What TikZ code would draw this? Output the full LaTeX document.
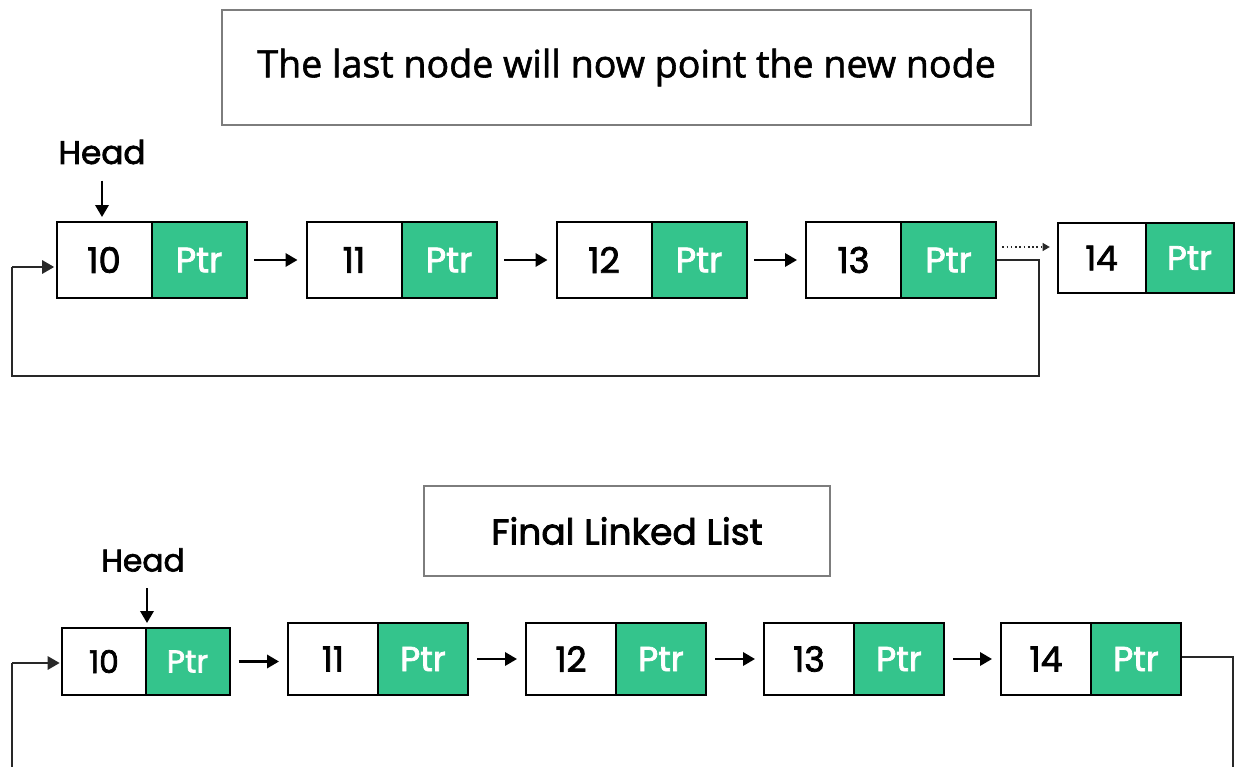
\documentclass[tikz,border=0pt]{standalone}
\usepackage{fontspec}
\setmainfont{Poppins}[FakeBold=2.2]
\newfontfamily\captionfont{Open Sans}[FakeBold=1.6]
\usetikzlibrary{arrows.meta}
\definecolor{ptrgreen}{RGB}{52,196,140}
\definecolor{framegray}{RGB}{125,125,125}
\definecolor{loopgray}{RGB}{40,40,40}
\begin{document}
\begin{tikzpicture}[x=0.75pt,y=-0.75pt,
  cell/.style={draw=black,line width=1.5pt,inner sep=0pt,anchor=center},
  datacell/.style={cell,fill=white,text=black},
  ptrcell/.style={cell,fill=ptrgreen,text=white},
  topsz/.style={minimum width=71.25pt,minimum height=57pt,font=\fontsize{26.5}{30}\selectfont},
  newsz/.style={minimum width=66pt,minimum height=52.5pt,font=\fontsize{25.5}{30}\selectfont},
  firstsz/.style={minimum width=63pt,minimum height=50.25pt,font=\fontsize{23.5}{27}\selectfont},
  botsz/.style={minimum width=67.5pt,minimum height=54pt,font=\fontsize{26}{29}\selectfont},
  caption/.style={draw=framegray,line width=2pt,inner sep=0pt,fill=white},
  headlabel/.style={font=\fontsize{24.5}{28}\selectfont,inner sep=0pt},
  link/.style={line width=1.8pt,-{Triangle[length=9pt,width=10pt]}},
  loopline/.style={draw=loopgray,line width=1.5pt},
  looparrow/.style={loopline,-{Triangle[length=9pt,width=10pt]}},
  newlink/.style={line width=1.2pt,dotted,draw=loopgray,-{Triangle[length=5.5pt,width=6pt]}}
]
\useasboundingbox (0,0) rectangle (1239,767);

% ---------- step: last node points to the new node ----------
\node[caption,minimum width=606.75pt,minimum height=86.25pt] (cap1) at (626.5,67.5)
  {\captionfont\fontsize{28.2}{31}\selectfont The last node will now point the new node};

\node[headlabel] (head1) at (102,152) {Head};

\node[datacell,topsz] (a1) at (104,260) {10};
\node[ptrcell,topsz] (a1p) at (199,260) {Ptr};
\node[datacell,topsz] (a2) at (354,260) {11};
\node[ptrcell,topsz] (a2p) at (449,260) {Ptr};
\node[datacell,topsz] (a3) at (604,260) {12};
\node[ptrcell,topsz] (a3p) at (699,260) {Ptr};
\node[datacell,topsz] (a4) at (853.5,260) {13};
\node[ptrcell,topsz] (a4p) at (948.5,260) {Ptr};
\node[datacell,newsz] (a5) at (1101.5,258) {14};
\node[ptrcell,newsz] (a5p) at (1189.5,258) {Ptr};

\draw[link,shorten <=12pt,shorten >=3pt] (head1) -- (head1 |- a1.north);
\draw[link,shorten <=5pt,shorten >=6pt] (a1p) -- (a2);
\draw[link,shorten <=5pt,shorten >=6pt] (a2p) -- (a3);
\draw[link,shorten <=5pt,shorten >=6pt] (a3p) -- (a4);
\draw[newlink,shorten <=4pt,shorten >=5pt]
  ([yshift=9.75pt]a4p.east) -- ([yshift=9.75pt]a4p.east -| a5.west);

\coordinate (ta) at (1039,260);
\coordinate (tb) at (1039,376);
\coordinate (tc) at (12,376);
\coordinate (td) at (12,267);
\draw[loopline] (a4p.east) -- (ta) -- (tb) -- (tc) -- (td);
\draw[looparrow,shorten >=1pt] (td) -- (td -| a1.west);

% ---------- resulting circular list ----------
\node[caption,minimum width=304.5pt,minimum height=67.5pt] (cap2) at (627,531)
  {\fontsize{27}{30}\selectfont Final Linked List};

\node[headlabel,font=\fontsize{23.5}{27}\selectfont] (head2) at (143,560) {Head};

\node[datacell,firstsz] (b1) at (104,661.5) {10};
\node[ptrcell,firstsz] (b1p) at (187.5,661.5) {Ptr};
\node[datacell,botsz] (b2) at (333,659) {11};
\node[ptrcell,botsz] (b2p) at (423,659) {Ptr};
\node[datacell,botsz] (b3) at (571,659) {12};
\node[ptrcell,botsz] (b3p) at (661,659) {Ptr};
\node[datacell,botsz] (b4) at (809,659) {13};
\node[ptrcell,botsz] (b4p) at (899,659) {Ptr};
\node[datacell,botsz] (b5) at (1046,659) {14};
\node[ptrcell,botsz] (b5p) at (1136,659) {Ptr};

\draw[link,shorten <=12pt,shorten >=3pt] (b1.north east |- head2.south) -- (b1.north east);
\draw[link,shorten <=6pt,shorten >=6pt] (b1p) -- (b1p -| b2.west);
\draw[link,shorten <=6pt,shorten >=6pt] (b2p) -- (b3);
\draw[link,shorten <=6pt,shorten >=6pt] (b3p) -- (b4);
\draw[link,shorten <=6pt,shorten >=6pt] (b4p) -- (b5);

\coordinate (ba) at (12,767);
\coordinate (bb) at (12,663);
\draw[loopline] (ba) -- (bb);
\draw[looparrow,shorten >=1pt] (bb) -- (bb -| b1.west);

\coordinate (bc) at (1233,657);
\coordinate (bd) at (1233,767);
\draw[loopline] (b5p.east |- bc) -- (bc) -- (bd);
\end{tikzpicture}
\end{document}
